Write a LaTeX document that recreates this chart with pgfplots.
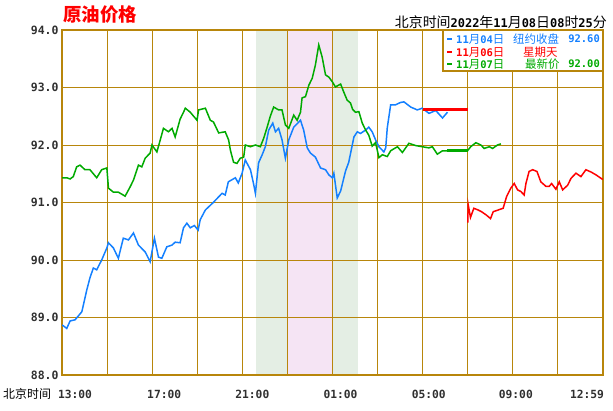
\documentclass[border=0pt]{standalone}
\usepackage{pgfplots}
\pgfplotsset{compat=1.18}
\usepackage{fontspec}
\setmainfont{Liberation Sans}
\newfontfamily\cjk{Noto Sans CJK SC}
\newfontfamily\monob{DejaVu Sans Mono}
\definecolor{gridc}{RGB}{184,134,11}
\definecolor{bl}{RGB}{20,128,255}
\definecolor{gr}{RGB}{0,170,0}
\definecolor{rd}{RGB}{255,0,0}
\definecolor{shg}{RGB}{228,238,228}
\definecolor{shp}{RGB}{245,228,244}
\definecolor{tk}{RGB}{48,48,48}
\newcommand\D[1]{{\monob\bfseries\fontsize{10.5}{12}\selectfont #1}}
\newcommand\DT[1]{{\monob\bfseries\fontsize{12}{13}\selectfont #1}}
\begin{document}
\begin{tikzpicture}
\begin{axis}[
  at={(62bp,35bp)}, anchor=south west,
  scale only axis, width=541bp, height=345bp,
  xmin=0, xmax=24, ymin=88, ymax=94,
  set layers,
  axis line style={gridc, line width=1.2bp},
  grid=major, major grid style={gridc, line width=1bp},
  xtick={0,2,...,24}, ytick={88,89,...,94},
  xticklabels={,,,,,,,,,,,,},
  major tick length=0pt,
  yticklabels={88.0,89.0,90.0,91.0,92.0,93.0,94.0},
  yticklabel style={font={\monob\bfseries\fontsize{11.5}{12}\selectfont}, text=tk},
  extra x ticks={0.578,4.533,8.444,12.356,16.267,20.133,23.289},
  extra x tick labels={13:00,17:00,21:00,01:00,05:00,09:00,12:59},
  extra x tick style={grid=none, major tick length=0pt,
     xticklabel style={anchor=center, yshift=-19bp, font={\monob\bfseries\fontsize{11.3}{12}\selectfont}, text=tk}},
]
\begin{pgfonlayer}{axis background}
\fill[shg] (axis cs:8.62,88) rectangle (axis cs:13.15,94);
\fill[shp] (axis cs:10,88) rectangle (axis cs:12,94);
\end{pgfonlayer}

% 11月04日 (blue)
\addplot[bl, line width=1.5bp] coordinates {
(0.01,88.87) (0.21,88.81) (0.36,88.94) (0.58,88.96) (0.88,89.10) (1.10,89.48) (1.24,89.69) (1.39,89.86) (1.54,89.83) (1.76,90.00)
(1.99,90.21) (2.06,90.30) (2.28,90.21) (2.50,90.03) (2.72,90.38) (2.95,90.35) (3.17,90.47) (3.39,90.26) (3.69,90.14) (3.91,89.97)
(4.10,90.38) (4.28,90.05) (4.43,90.03) (4.65,90.23) (4.88,90.26) (5.02,90.31) (5.24,90.30) (5.39,90.56) (5.54,90.64) (5.69,90.56)
(5.87,90.60) (6.04,90.52) (6.13,90.70) (6.36,90.87) (6.71,91.00) (7.10,91.16) (7.24,91.13) (7.38,91.36) (7.69,91.43) (7.82,91.34)
(7.99,91.51) (8.13,91.74) (8.36,91.57) (8.49,91.34) (8.58,91.16) (8.72,91.69) (8.88,91.83) (9.02,91.97) (9.17,92.26) (9.35,92.38)
(9.47,92.23) (9.61,92.29) (9.76,92.09) (9.91,91.77) (10.06,92.09) (10.28,92.31) (10.58,92.43) (10.72,92.26) (10.88,91.95) (11.02,91.86)
(11.24,91.79) (11.47,91.60) (11.69,91.57) (11.84,91.48) (11.99,91.43) (12.06,91.51) (12.21,91.08) (12.36,91.20) (12.58,91.55) (12.72,91.70)
(12.95,92.14) (13.10,92.23) (13.24,92.20) (13.47,92.26) (13.61,92.31) (13.76,92.23) (13.91,92.09) (14.06,91.97) (14.28,91.88) (14.36,91.95)
(14.43,92.30) (14.58,92.70) (14.80,92.70) (15.02,92.74) (15.17,92.75) (15.47,92.66) (15.76,92.61) (15.98,92.64) (16.28,92.55) (16.58,92.60)
(16.88,92.47) (17.10,92.57)
};

% 11月07日 (green)
\addplot[gr, line width=1.5bp] coordinates {
(0.01,91.43) (0.21,91.43) (0.36,91.41) (0.50,91.45) (0.65,91.62) (0.80,91.65) (1.02,91.57) (1.24,91.57) (1.54,91.43) (1.76,91.57)
(1.99,91.60) (2.06,91.25) (2.28,91.18) (2.50,91.18) (2.80,91.11) (3.02,91.27) (3.17,91.39) (3.39,91.65) (3.54,91.62) (3.69,91.77)
(3.91,91.86) (3.99,92.00) (4.21,91.88) (4.36,92.09) (4.50,92.29) (4.72,92.23) (4.88,92.29) (5.02,92.14) (5.24,92.45) (5.39,92.57)
(5.47,92.64) (5.69,92.57) (5.99,92.43) (6.06,92.61) (6.36,92.64) (6.58,92.43) (6.72,92.40) (6.95,92.21) (7.24,92.23) (7.39,92.09)
(7.47,91.91) (7.61,91.70) (7.76,91.68) (7.91,91.77) (8.06,91.79) (8.13,92.00) (8.36,91.97) (8.58,92.00) (8.80,91.97) (8.95,92.12)
(9.10,92.31) (9.24,92.50) (9.39,92.66) (9.61,92.61) (9.76,92.61) (9.91,92.35) (10.06,92.29) (10.28,92.52) (10.43,92.43) (10.58,92.57)
(10.65,92.82) (10.80,92.84) (10.95,93.04) (11.10,93.16) (11.24,93.39) (11.39,93.74) (11.54,93.53) (11.69,93.22) (11.84,93.18) (11.99,93.10)
(12.13,93.01) (12.36,93.06) (12.50,92.92) (12.65,92.78) (12.80,92.73) (12.89,92.62) (13.02,92.57) (13.17,92.58) (13.32,92.38) (13.47,92.26)
(13.61,92.17) (13.76,91.98) (13.91,92.04) (14.06,91.78) (14.21,91.83) (14.43,91.80) (14.58,91.90) (14.88,91.97) (15.10,91.87) (15.39,92.03)
(15.69,91.99) (15.98,91.97) (16.28,91.95) (16.43,91.97) (16.65,91.84) (16.88,91.90) (17.10,91.90) (17.99,91.90)
(18.13,91.97) (18.36,92.04) (18.58,92.00) (18.73,91.94) (18.96,91.97) (19.10,91.94) (19.32,92.00) (19.47,92.02)
};
\addplot[gr, line width=3bp] coordinates {(17.10,91.90) (17.99,91.90)};

% 11月06日 (red)
\addplot[rd, line width=3bp] coordinates {(16.0,92.61) (18.0,92.61)};
\addplot[rd, line width=1.5bp] coordinates {
(18.00,90.65) (18.02,90.96) (18.12,90.74) (18.27,90.90) (18.46,90.87) (18.61,90.84) (18.83,90.78) (19.01,90.72) (19.13,90.84) (19.35,90.87)
(19.57,90.90) (19.72,91.10) (19.91,91.25) (20.06,91.33) (20.21,91.22) (20.36,91.19) (20.50,91.13) (20.58,91.33) (20.72,91.54) (20.88,91.57)
(21.07,91.54) (21.24,91.36) (21.47,91.28) (21.61,91.28) (21.72,91.33) (21.91,91.23) (22.06,91.36) (22.21,91.22) (22.43,91.30) (22.58,91.42)
(22.80,91.51) (23.02,91.45) (23.24,91.57) (23.47,91.53) (23.69,91.48) (23.99,91.40)
};
\end{axis}

\begin{scope}[x=1bp,y=1bp]
% title and header
\node[anchor=west, inner sep=0, text=rd] at (63,395) {\cjk\bfseries\fontsize{18.5}{20}\selectfont 原油价格};
\node[anchor=east, inner sep=0, text=black] at (607,388) {\cjk\fontsize{14}{15}\selectfont 北京时间\DT{2022}年\DT{11}月\DT{08}日\DT{08}时\DT{25}分};
\node[anchor=west, inner sep=0, text=black] at (3,16) {\cjk\fontsize{12}{13}\selectfont 北京时间};

% legend box
\draw[gridc, line width=1.2bp, fill=white] (443,339) rectangle (603,380);
\draw[bl, line width=2bp] (447,371) -- (452,371);
\draw[rd, line width=2bp] (447,358) -- (452,358);
\draw[gr, line width=2bp] (447,346) -- (452,346);
\node[anchor=west, inner sep=0, text=bl] at (456,371) {\cjk\fontsize{11.5}{12}\selectfont \D{11}月\D{04}日};
\node[anchor=west, inner sep=0, text=rd] at (456,358) {\cjk\fontsize{11.5}{12}\selectfont \D{11}月\D{06}日};
\node[anchor=west, inner sep=0, text=gr] at (456,346) {\cjk\fontsize{11.5}{12}\selectfont \D{11}月\D{07}日};
\node[anchor=west, inner sep=0, text=bl] at (513,371) {\cjk\fontsize{11.5}{12}\selectfont 纽约收盘};
\node[anchor=east, inner sep=0, text=bl] at (600,371) {\D{92.60}};
\node[anchor=west, inner sep=0, text=rd] at (523,358) {\cjk\fontsize{11.5}{12}\selectfont 星期天};
\node[anchor=west, inner sep=0, text=gr] at (525,346) {\cjk\fontsize{11.5}{12}\selectfont 最新价};
\node[anchor=east, inner sep=0, text=gr] at (600,346) {\D{92.00}};
\pgfresetboundingbox
\useasboundingbox (0,0) rectangle (613,410);
\end{scope}
\end{tikzpicture}
\end{document}
